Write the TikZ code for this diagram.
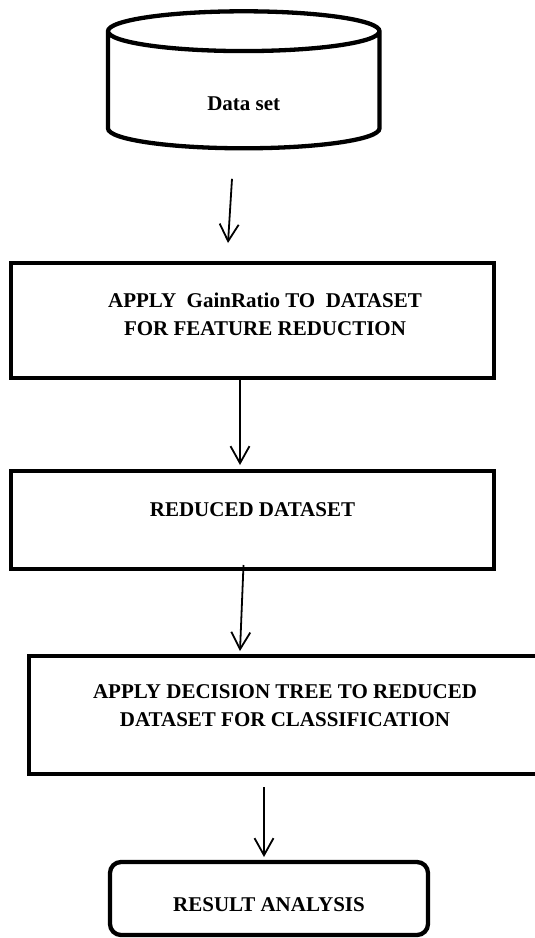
\documentclass[tikz,border=0pt]{standalone}
\usepackage{fontspec}
\setmainfont{Liberation Serif}
\usetikzlibrary{shapes.geometric,arrows.meta}

\tikzset{
  stepbox/.style={draw,line width=4.5pt,minimum width=483pt,align=center},
  arr/.style={line width=1.8pt,-{Straight Barb[length=17pt,width=19pt]}},
}

\begin{document}
\begin{tikzpicture}[x=1pt,y=-1pt,font=\fontsize{21}{28}\selectfont\bfseries]
\useasboundingbox (0,0) rectangle (535,938);

\node[draw,line width=4.3pt,cylinder,shape border rotate=90,aspect=0.5,
  minimum width=271.5pt,minimum height=137pt,text height=35pt] (data) at (243.75,93) {Data set};

\node[stepbox,minimum height=115pt,text depth=12pt] (reduce) at (252.5,320.5)
  {\hspace*{25pt}APPLY\ \ GainRatio TO\ \ DATASET\\\hspace*{25pt}FOR FEATURE REDUCTION};
\node[stepbox,minimum height=98pt,text depth=21pt] (reduced) at (252.5,520) {REDUCED DATASET};
\node[stepbox,minimum width=512pt,minimum height=118pt,text depth=19pt] (tree) at (285,715)
  {APPLY DECISION TREE TO REDUCED\\DATASET FOR CLASSIFICATION};
\node[draw,line width=4.3pt,rounded corners=11pt,minimum width=318pt,minimum height=73pt,
  text height=26pt] (result) at (269,898.5) {RESULT ANALYSIS};

\draw[arr] ([xshift=-11.75pt,yshift=-28.35pt]data.south) -- ([xshift=-24.5pt,yshift=17.75pt]reduce.north);
\draw[arr] ([xshift=-12.5pt,yshift=2.25pt]reduce.south) -- ([xshift=-12.5pt,yshift=3.75pt]reduced.north);
\draw[arr] ([xshift=-9pt,yshift=6.25pt]reduced.south) -- ([xshift=-45pt,yshift=2.75pt]tree.north);
\draw[arr] ([xshift=-21pt,yshift=-10.75pt]tree.south) -- ([xshift=-5pt,yshift=2.85pt]result.north);
\end{tikzpicture}
\end{document}
